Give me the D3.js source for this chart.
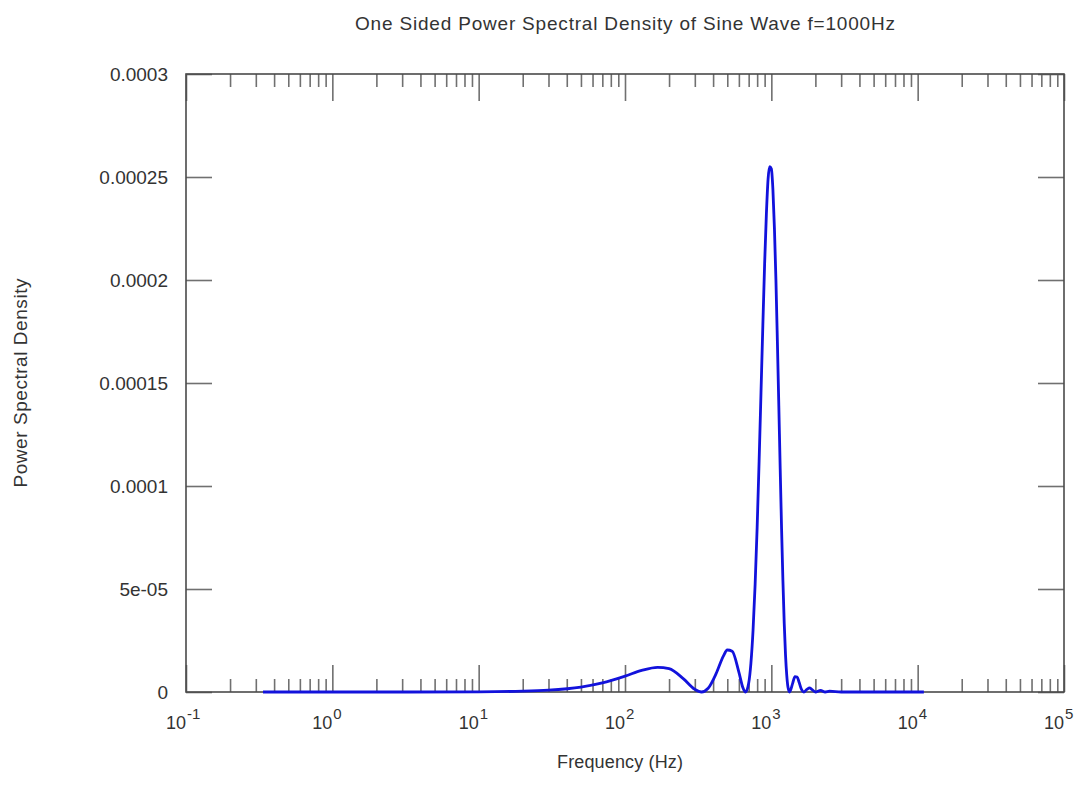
<!DOCTYPE html>
<html>
<head>
<meta charset="utf-8">
<script src="https://cdn.jsdelivr.net/npm/d3@7"></script>
<style>
  html, body { margin: 0; padding: 0; background: #fff; }
  svg { display: block; }
  text { font-family: "Liberation Sans", Arial, sans-serif; fill: #333; }
</style>
</head>
<body>
<div id="chart"></div>
<script>
// ---- data ----
const chartTitle = "One Sided Power Spectral Density of Sine Wave f=1000Hz";
const xLabel = "Frequency (Hz)";
const yLabel = "Power Spectral Density";

const freqHz = [0.336, 1, 3, 10, 20, 30, 50, 70, 100, 130, 167, 200, 250, 300, 333,
  370, 420, 470, 500, 540, 600, 640, 667, 700, 725, 750, 775, 800, 825, 850, 875, 900,
  925, 950, 975, 1000, 1025, 1050, 1075, 1100, 1125, 1150, 1175, 1200, 1225, 1250, 1275,
  1300, 1333, 1400, 1450, 1500, 1550, 1600, 1667, 1750, 1833, 1900, 2000, 2170, 2333,
  2500, 3000, 5000, 11025];
const psd = [0, 0, 1e-8, 1e-7, 4e-7, 9e-7, 2.4e-6, 4.4e-6, 7.7e-6, 1.05e-5, 1.2e-5, 1.13e-5, 6.5e-6, 1.3e-6, 0,
  1.8e-6, 9.0e-6, 1.74e-5, 2.04e-5, 1.98e-5, 9.7e-6, 2.0e-6, 0, 4.2e-6, 1.39e-5, 3.0e-5, 5.23e-5, 8.0e-5, 1.12e-4, 1.455e-4, 1.78e-4, 2.08e-4,
  2.32e-4, 2.49e-4, 2.55e-4, 2.54e-4, 2.44e-4, 2.25e-4, 2.0e-4, 1.7e-4, 1.39e-4, 1.08e-4, 7.9e-5, 5.4e-5, 3.33e-5, 1.8e-5, 8.0e-6,
  2.3e-6, 0, 4.3e-6, 7.5e-6, 7.3e-6, 4.6e-6, 1.6e-6, 0, 1.3e-6, 2.0e-6, 1.1e-6, 0, 8e-7, 0,
  4e-7, 0, 0, 0];

const yTickValues = [0, 0.00005, 0.0001, 0.00015, 0.0002, 0.00025, 0.0003];
const yTickLabels = ["0", "5e-05", "0.0001", "0.00015", "0.0002", "0.00025", "0.0003"];
const xDecades = [-1, 0, 1, 2, 3, 4, 5];
const xMinorMultipliers = [2, 3, 4, 5, 6, 7, 8, 9];

// ---- layout ----
const W = 1092, H = 799;
const plot = { left: 186, right: 1064, top: 74, bottom: 692 };

const svg = d3.select("#chart").append("svg").attr("width", W).attr("height", H);

const x = d3.scaleLog().domain([0.1, 1e5]).range([plot.left, plot.right]);
const y = d3.scaleLinear().domain([0, 0.0003]).range([plot.bottom, plot.top]);

const majorX = xDecades.map(e => Math.pow(10, e));
const minorX = [];
xDecades.slice(0, -1).forEach(e => xMinorMultipliers.forEach(m => minorX.push(m * Math.pow(10, e))));

const tickColor = "#707070";
const majorLen = 27, minorLen = 13;

function styleAxis(g) {
  g.select(".domain").remove();
  g.selectAll(".tick line").attr("stroke", tickColor).attr("stroke-width", 1.6);
  g.selectAll(".tick text").remove();
}

// bottom ticks (inward = upward)
svg.append("g").attr("transform", `translate(0,${plot.bottom})`)
  .call(d3.axisBottom(x).tickValues(minorX).tickSize(-minorLen).tickFormat("")).call(styleAxis);
svg.append("g").attr("transform", `translate(0,${plot.bottom})`)
  .call(d3.axisBottom(x).tickValues(majorX).tickSize(-majorLen).tickFormat("")).call(styleAxis);
// top ticks (inward = downward)
svg.append("g").attr("transform", `translate(0,${plot.top})`)
  .call(d3.axisTop(x).tickValues(minorX).tickSize(-minorLen).tickFormat("")).call(styleAxis);
svg.append("g").attr("transform", `translate(0,${plot.top})`)
  .call(d3.axisTop(x).tickValues(majorX).tickSize(-majorLen).tickFormat("")).call(styleAxis);
// left and right y ticks
svg.append("g").attr("transform", `translate(${plot.left},0)`)
  .call(d3.axisLeft(y).tickValues(yTickValues).tickSize(-majorLen + 1).tickFormat("")).call(styleAxis);
svg.append("g").attr("transform", `translate(${plot.right},0)`)
  .call(d3.axisRight(y).tickValues(yTickValues).tickSize(-majorLen + 1).tickFormat("")).call(styleAxis);

// frame
svg.append("rect")
  .attr("x", plot.left).attr("y", plot.top)
  .attr("width", plot.right - plot.left).attr("height", plot.bottom - plot.top)
  .attr("fill", "none").attr("stroke", "#4a4a4a").attr("stroke-width", 1.6);

// y tick labels
svg.append("g").selectAll("text").data(yTickValues).join("text")
  .attr("x", 168).attr("y", d => y(d)).attr("dy", "0.36em")
  .attr("text-anchor", "end").style("font-size", "19px")
  .text((d, i) => yTickLabels[i]);

// x tick labels: 10^e
const xl = svg.append("g").selectAll("g").data(xDecades).join("g")
  .attr("transform", e => `translate(${x(Math.pow(10, e))},0)`);
xl.append("text").attr("x", 0).attr("y", 729).attr("text-anchor", "end")
  .style("font-size", "18px").text("10");
xl.append("text").attr("x", 1).attr("y", 719).attr("text-anchor", "start")
  .style("font-size", "15px").text(e => String(e));

// data line
const line = d3.line()
  .x((d, i) => x(freqHz[i]))
  .y(d => y(d))
  .curve(d3.curveMonotoneX);
svg.append("path").datum(psd)
  .attr("d", line)
  .attr("fill", "none").attr("stroke", "#1212dc").attr("stroke-width", 2.8)
  .attr("stroke-linejoin", "round");

// titles
svg.append("text").attr("x", 625).attr("y", 30).attr("text-anchor", "middle")
  .style("font-size", "19px").attr("textLength", 540).attr("lengthAdjust", "spacing")
  .text(chartTitle);
svg.append("text").attr("x", 620).attr("y", 768).attr("text-anchor", "middle")
  .style("font-size", "18px").attr("textLength", 126).attr("lengthAdjust", "spacing")
  .text(xLabel);
svg.append("text").attr("transform", `translate(27,383) rotate(-90)`)
  .attr("text-anchor", "middle").style("font-size", "19px")
  .attr("textLength", 209).attr("lengthAdjust", "spacing")
  .text(yLabel);
</script>
</body>
</html>
